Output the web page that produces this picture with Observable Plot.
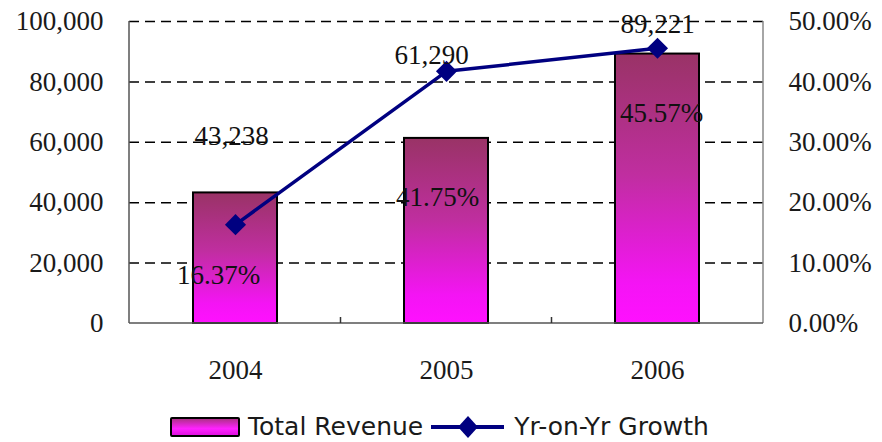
<!DOCTYPE html>
<html>
<head>
<meta charset="utf-8">
<script src="https://cdn.jsdelivr.net/npm/d3@7"></script>
<script src="https://cdn.jsdelivr.net/npm/@observablehq/plot@0.6"></script>
<style>
  html, body { margin: 0; padding: 0; background: #fff; }
  #chart { width: 882px; }
  .legend { position: absolute; top: 412px; left: 0; width: 882px; display: flex; align-items: center;
    font-family: "DejaVu Sans", sans-serif; font-size: 25px; color: #1a1a1a; }
  .sw { width: 66px; height: 16px; border: 2px solid #000; border-radius: 2px;
    background: linear-gradient(to bottom, #b0308a, #ff22ff 60%, #e010e0); box-sizing: content-box; }
</style>
</head>
<body>
<div id="chart"></div>
<div class="legend" id="legend">
  <div style="width:170px"></div>
  <div class="sw"></div>
  <span style="margin-left:8px">Total Revenue</span>
  <svg width="73" height="28" style="margin-left:8px">
    <line x1="0" x2="73" y1="14" y2="14" stroke="#000080" stroke-width="4"></line>
    <path d="M37,3 L47,14 L37,25 L27,14 Z" fill="#000080"></path>
  </svg>
  <span style="margin-left:10px">Yr-on-Yr Growth</span>
</div>
<script>
const years = ["2004", "2005", "2006"];
const revenue = [43238, 61290, 89221];
const growth = [0.1637, 0.4175, 0.4557];
const leftTicks = [0, 20000, 40000, 60000, 80000, 100000];
const rightTicks = [0, 0.1, 0.2, 0.3, 0.4, 0.5];
const rightMax = 0.5;
const leftMax = 100000;

const data = years.map((year, i) => ({year, revenue: revenue[i], growth: growth[i]}));
const g2y = g => g / rightMax * leftMax;

const NS = "http://www.w3.org/2000/svg";
function el(name, attrs) {
  const e = document.createElementNS(NS, name);
  for (const k in attrs) e.setAttribute(k, attrs[k]);
  return e;
}

// gradient defs
const defsMark = () => {
  const defs = el("defs", {});
  const lg = el("linearGradient", {id: "barGrad", x1: 0, y1: 0, x2: 0, y2: 1});
  [["0%", "#993366"], ["45%", "#c02ea0"], ["85%", "#f414f4"], ["100%", "#ff10ff"]].forEach(([o, c]) => {
    lg.appendChild(el("stop", {offset: o, "stop-color": c}));
  });
  defs.appendChild(lg);
  return defs;
};

// axis frame lines + inner category ticks
const frameMark = (index, scales, values, dims) => {
  const g = el("g", {});
  const {marginLeft, marginRight, marginTop, marginBottom, width, height} = dims;
  const x0 = marginLeft, x1 = width - marginRight, y0 = marginTop, y1 = height - marginBottom;
  g.appendChild(el("line", {x1: x0, x2: x0, y1: y0, y2: y1, stroke: "#555", "stroke-width": 1.5}));
  g.appendChild(el("line", {x1: x1, x2: x1, y1: y0, y2: y1, stroke: "#888", "stroke-width": 1.5}));
  g.appendChild(el("line", {x1: x0, x2: x1, y1: y1, y2: y1, stroke: "#555", "stroke-width": 1.5}));
  const x = scales.x;
  const step = x.step(), bw = x.bandwidth();
  years.slice(1).forEach(yr => {
    const xb = x(yr) - (step - bw) / 2;
    g.appendChild(el("line", {x1: xb, x2: xb, y1: y1, y2: y1 - 6, stroke: "#333", "stroke-width": 1.5}));
  });
  return g;
};

const serif = "'Liberation Serif', 'Times New Roman', serif";
const lbl = (i, yacc, fmt, dx, dy) => Plot.text([data[i]], {
  x: "year", y: yacc, text: d => fmt(d), dx, dy, fontSize: 27, fill: "#111", fontFamily: serif
});
const fmtRev = d => d3.format(",")(d.revenue);
const fmtPct = d => (d.growth * 100).toFixed(2) + "%";
const gy = d => g2y(d.growth);

const chart = Plot.plot({
  width: 882,
  height: 390,
  marginLeft: 129,
  marginRight: 119,
  marginTop: 21,
  marginBottom: 67,
  x: {domain: years, paddingInner: 0.6, paddingOuter: 0.3, axis: null},
  y: {domain: [0, leftMax], axis: null},
  style: {fontFamily: serif, fontSize: "27px", color: "#1a1a1a", background: "white", overflow: "visible"},
  marks: [
    defsMark,
    Plot.gridY(leftTicks.slice(1), {stroke: "#000", strokeOpacity: 1, strokeDasharray: "10,6", strokeWidth: 1.5}),
    Plot.barY(data, {x: "year", y: "revenue", fill: "url(#barGrad)", stroke: "#000", strokeWidth: 2}),
    frameMark,
    Plot.axisY(leftTicks, {anchor: "left", label: null, tickSize: 0, tickPadding: 26, tickFormat: d3.format(","), fontSize: 27, fill: "#1a1a1a"}),
    Plot.axisY(rightTicks.map(g2y), {anchor: "right", label: null, tickSize: 0, tickPadding: 25,
      tickFormat: d => (d / leftMax * rightMax * 100).toFixed(2) + "%", fontSize: 27, fill: "#1a1a1a"}),
    Plot.axisX(years, {label: null, tickSize: 0, tickPadding: 36, fontSize: 27, fill: "#1a1a1a"}),
    Plot.line(data, {x: "year", y: gy, stroke: "#000080", strokeWidth: 3.5}),
    Plot.dot(data, {x: "year", y: gy, symbol: "diamond2", r: 9.5, fill: "#000080", stroke: "none"}),
    lbl(0, "revenue", fmtRev, -4, -57),
    lbl(1, "revenue", fmtRev, -15, -83),
    lbl(2, "revenue", fmtRev, 0, -30),
    lbl(0, gy, fmtPct, -17, 51),
    lbl(1, gy, fmtPct, -9, 126),
    lbl(2, gy, fmtPct, 4, 65)
  ]
});
document.getElementById("chart").appendChild(chart);
</script>
</body>
</html>
